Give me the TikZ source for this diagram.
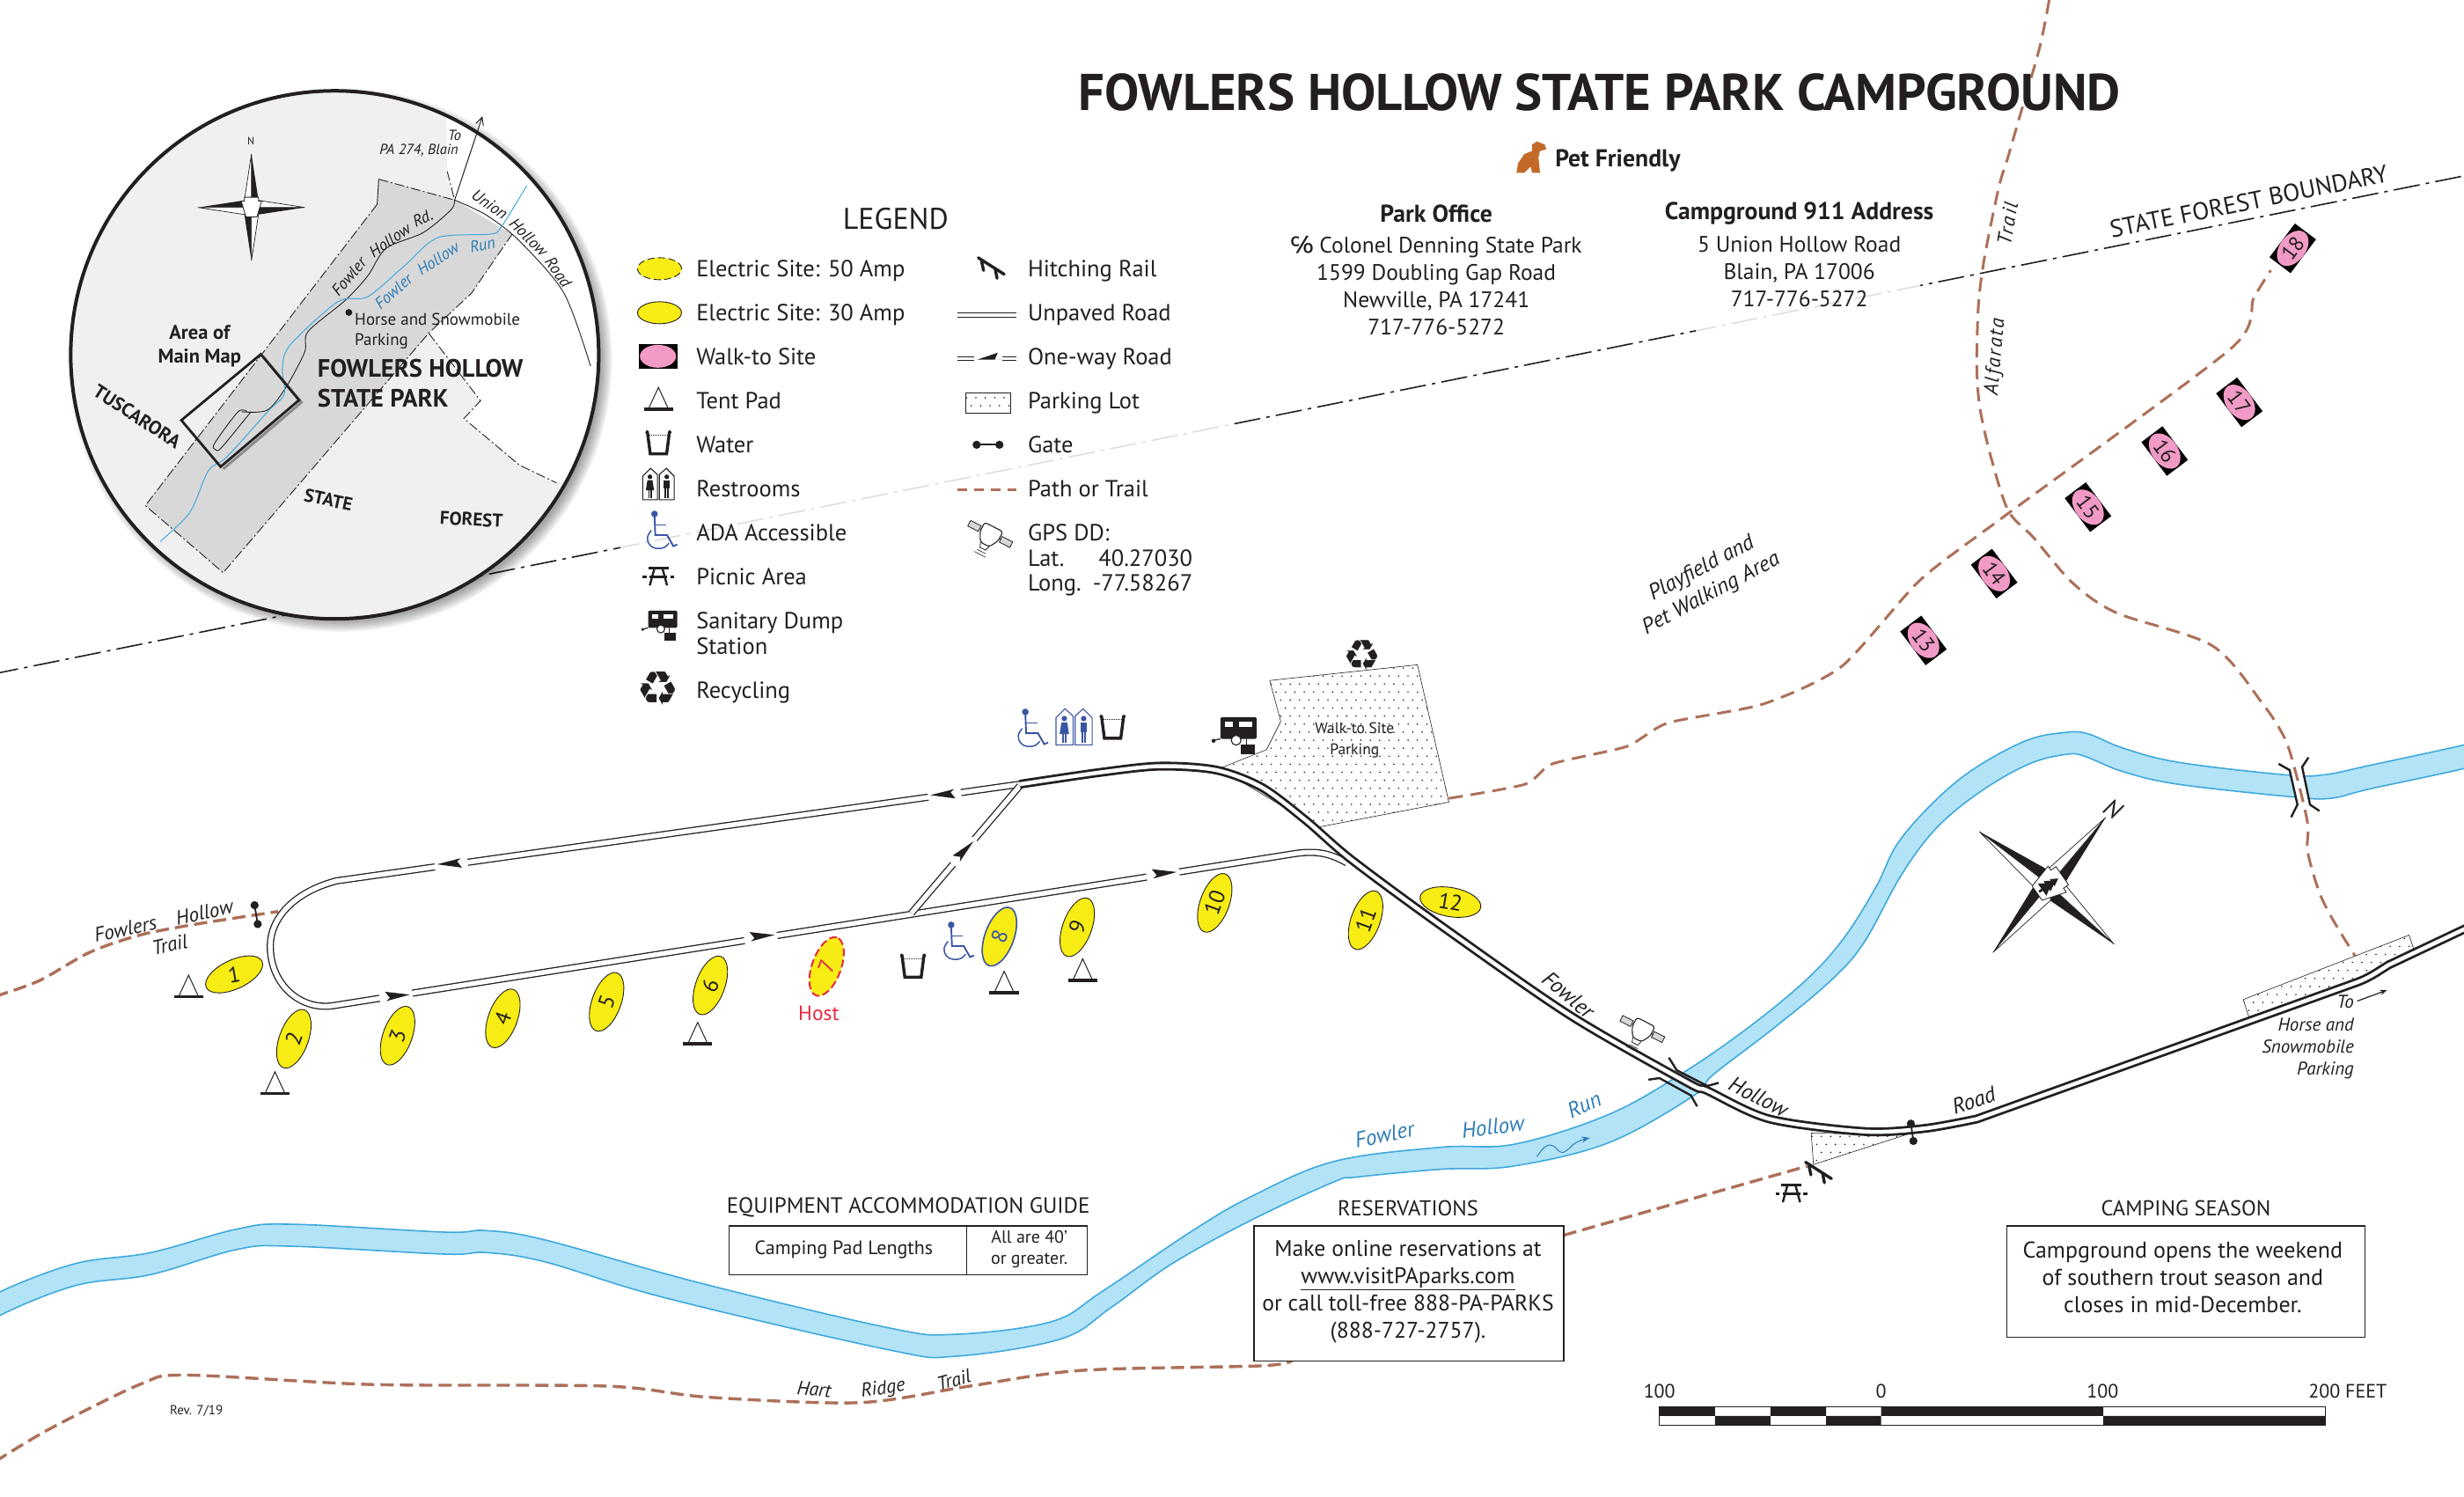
\documentclass[tikz,border=0pt]{standalone}
\usepackage{fontspec}
\setmainfont{PT Sans}
\newfontfamily\symf{DejaVu Sans}
\newfontface\spit[LetterSpace=9]{PT Sans Italic}
\usetikzlibrary{shapes.geometric,arrows.meta}
\definecolor{ink}{HTML}{231F20}
\definecolor{trailc}{HTML}{AD7059}
\definecolor{riverf}{HTML}{B3E3F7}
\definecolor{rivere}{HTML}{3FA9DC}
\definecolor{riverl}{HTML}{2F7DB8}
\definecolor{sitey}{HTML}{F7EC13}
\definecolor{pinks}{HTML}{F29AC6}
\definecolor{adab}{HTML}{3B55A5}
\definecolor{hostr}{HTML}{E8283F}
\definecolor{insetg}{HTML}{F1F0F1}
\definecolor{parkg}{HTML}{D9D8D8}
\definecolor{dogc}{HTML}{C46A28}
\newcounter{lblc}
\newcommand\fs[1]{\fontsize{#1pt}{\dimexpr#1pt*6/5\relax}\selectfont}
\newcommand\fsl[2]{\fontsize{#1pt}{#2pt}\selectfont}
% [options]{x}{y}{rotation}{size}{text}
\newcommand\lbl[6][]{\stepcounter{lblc}\node[inner sep=0,align=center,text=ink,rotate=#4,font=\fs{#5},#1] (L\arabic{lblc}) at (#2,#3) {#6};}
\newcommand\site[5][]{\node[sitestyle,rotate=#5,#1] (s#2) at (#3,#4) {#2};}
\newcommand\walksite[4]{\node[wrect,rotate=#4] (w#1) at (#2,#3) {};\node[well,rotate=#4] (we#1) at (w#1) {#1};}
\newcommand\icTent[2]{\begin{scope}[shift={(#1,#2)}]\draw[line width=1pt,ink] (-6,5.5)--(0,-7.5)--(6,5.5);\draw[line width=3.6pt,ink] (-9.3,6.3)--(9.3,6.3);\end{scope}}
\newcommand\icWater[2]{\begin{scope}[shift={(#1,#2)}]\draw[line width=3.4pt,ink] (-8,-7.5)--(-7,-7)--(-5.2,6.8)--(5.2,6.8)--(7,-7)--(8,-7.5);\draw[line width=1pt,ink,densely dotted] (-6,-5)--(6,-5);\end{scope}}
\newcommand\icRest[4]{\begin{scope}[shift={(#1,#2)},scale=#4,#3]
\draw[line width=1.1pt,fill=white] (-10,10)--(-10,-5)--(-5,-10)--(-.6,-6)--(-.6,10)--cycle;
\draw[line width=1.1pt,fill=white] (.6,10)--(.6,-6)--(5,-10)--(10,-5)--(10,10)--cycle;
\fill (-5.4,-4.6) circle[radius=1.5];\fill (-7,-2.5)--(-3.8,-2.5)--(-2.8,4)--(-8,4)--cycle;\fill (-6.5,4) rectangle (-5.8,9);\fill (-5,4) rectangle (-4.3,9);
\fill (5.3,-4.6) circle[radius=1.5];\fill (3.4,-2.5) rectangle (7.2,3);\fill (3.9,3) rectangle (5.1,9);\fill (5.5,3) rectangle (6.7,9);
\end{scope}}
\newcommand\icAda[3]{\begin{scope}[shift={(#1,#2)},scale=#3,adab,line width=1.5pt]
\fill (-4.5,-10) circle[radius=2.1];\draw[line width=1.9pt] (-4.5,-9)--(-4,3.5)--(3.5,3.5)--(7.5,10.5)--(10,9.5);\draw (-4.3,-3)--(3,-3);
\draw plot[smooth,tension=.7] coordinates {(-6.5,.5)(-9,5)(-7.5,9.8)(-3,12)(2,11.2)(4.6,8.6)};
\end{scope}}
\newcommand\icPicnic[2]{\begin{scope}[shift={(#1,#2)},ink]
\draw[line width=2.8pt] (-6.5,-5)--(6.5,-5);\draw[line width=2.6pt] (-10,.6)--(-7.5,.6) (-5.5,.6)--(5.5,.6) (7.5,.6)--(10,.6);\draw[line width=2.4pt] (-2.5,-5)--(-5.5,6) (2.5,-5)--(5.5,6);\end{scope}}
\newcommand\icDump[3]{\begin{scope}[shift={(#1,#2)},scale=#3,ink]
\fill[rounded corners=2pt] (-7.5,-8.5) rectangle (11,2.5);\fill[white] (-5,-6.3) rectangle (-1,-3.6);\fill[white] (2,-6.3) rectangle (8.5,-3.6);
\draw[line width=1.2pt] (-11,3.3)--(-7.5,2.5);\fill (-11,3.5) circle[radius=1];
\draw[line width=1.1pt,fill=white] (.5,3.2) circle[radius=2.5];\draw[line width=1.4pt] (5.8,2)--(5.8,6);\fill (3,5.5) rectangle (10,10.5);\end{scope}}
\newcommand\icRecycle[3]{\stepcounter{lblc}\node[inner sep=0,text=ink,font=\symf\fs{#3}] (L\arabic{lblc}) at (#1,#2) {♻};}
\newcommand\icHitch[2]{\begin{scope}[shift={(#1,#2)},ink,line cap=round]\draw[line width=3.4pt] (-8,-5.5)--(8.5,5);\draw[line width=3.4pt] (-5.8,-3)--(-4.6,2.6) (2.8,1.5)--(4,7.6);\end{scope}}
\newcommand\icGate[4]{\draw[line width=1.8pt,ink] (#1,#2)--(#3,#4);\fill[ink] (#1,#2) circle[radius=2.6];\fill[ink] (#3,#4) circle[radius=2.6];}
\newcommand\icGps[2]{\begin{scope}[shift={(#1,#2)},rotate=-27,ink]
\draw[line width=.8pt,fill=parkg] (-15,-4.5) rectangle (-7.5,-.5);\draw[line width=.8pt,fill=parkg] (7.5,-4.5) rectangle (15,-.5);
\draw[line width=.8pt] (-7.5,-2.5)--(7.5,-2.5);
\draw[line width=1.1pt,fill=white,rounded corners=3pt] (-6.5,-7.5)--(6.5,-7.5)--(6.5,-1)--(3.2,5)--(-3.2,5)--(-6.5,-1)--cycle;
\draw[line width=.8pt] (-3,5)--(-2,8)--(2,8)--(3,5);\draw[line width=.6pt] (-3,10)--(3,10) (-4,12)--(4,12);\end{scope}}
\newcommand\oneway[3]{\begin{scope}[shift={(#1,#2)},rotate=#3]\fill[white] (-10.5,-4) rectangle (10.5,4);\fill[ink] (9,.3)--(-6.5,-4)--(-4,.3)--(-6.5,2)--cycle;\end{scope}}
\newcommand\stipple[5]{\foreach \i in {0,...,#3}\foreach \j in {0,...,#4}{\fill[ink] ({#1+\i*#5+mod(\j,2)*#5/2},{#2+\j*#5*.85}) circle[radius=.5];}}
% {rotations} {length} {half width}
\newcommand\starrays[3]{\foreach \a in {#1}{\begin{scope}[rotate=\a]
\fill[ink] (0,-#2)--(0,0)--(#3,-#3)--cycle;\draw[line width=.7pt,ink,fill=white] (0,-#2)--(0,0)--(-#3,-#3)--cycle;\end{scope}}}
\newcommand\keystone{\draw[line width=.8pt,ink,fill=white] (-13,-8)--(-9,-8)--(-9,-13)--(9,-13)--(9,-8)--(13,-8)--(7,12)--(-7,12)--cycle;}
\tikzset{
 sitestyle/.style={ellipse,draw=ink,fill=sitey,line width=.9pt,minimum width=70pt,minimum height=33pt,inner sep=0,font=\fs{25},text=ink},
 wrect/.style={rectangle,fill=black,minimum width=48pt,minimum height=30pt,inner sep=0},
 well/.style={ellipse,fill=pinks,minimum width=45pt,minimum height=29.5pt,inner sep=0,font=\fs{24},text=ink},
 legendsite/.style={ellipse,draw=ink,fill=sitey,line width=.9pt,minimum width=50pt,minimum height=25pt,inner sep=0},
 roadthin/.style={double=white,double distance=5.5pt,line width=1.3pt,draw=ink},
 roadmain/.style={double=white,double distance=4.5pt,line width=2.8pt,draw=ink},
 trailthick/.style={draw=trailc,line width=3.4pt,dash pattern=on 15pt off 7pt},
 trailthin/.style={draw=trailc,line width=3pt,dash pattern=on 16pt off 9pt},
 boundary/.style={draw=ink,line width=.9pt,dash pattern=on 11pt off 3pt on 2pt off 3pt},
 infobox/.style={draw=ink,line width=1.4pt,fill=white},
 lotedge/.style={draw=ink,line width=.6pt,fill=white},
 legw/.style={anchor=west,text height=18.5pt,text depth=0pt},
 lege/.style={anchor=east,text height=18.5pt,text depth=0pt},
}
\begin{document}
\begin{tikzpicture}[x=1.785714pt,y=-1.785714pt]
\useasboundingbox (0,0) rectangle (1568,952);
\fill[white] (0,0) rectangle (1568,952);
% state forest boundary
\draw[ink,line width=1.6pt,dash pattern=on 30pt off 7pt on 4pt off 7pt] (-5,429) -- (1575,110.5);
\fill[white,opacity=.85] (395,120) rectangle (782,460);
\fill[white,opacity=.85] (1079,120) rectangle (1222,215);
% river
\draw[fill=riverf,draw=rivere,line width=1.6pt] plot[smooth,tension=.6] coordinates {(-10,832)(0,822)(48,804)(96,797)(151,782)(186,779)(283,784)(309,783)(347,789)(444,816)(566,845)(608,849)(669,841)(701,822)(759,783)(797,761)(849,739)(917,730)(964,728)(1024,709)(1072,682)(1115,652)(1151,622)(1174,596)(1194,564)(1208,536)(1233,508)(1258,488)(1290,471)(1315,466)(1329,467)(1351,476)(1386,485)(1454,493)(1479,493)(1508,487)(1568,474)(1580,470)} -- plot[smooth,tension=.6] coordinates {(1580,484)(1568,489)(1508,502)(1483,508)(1458,507)(1386,499)(1351,491)(1326,481)(1315,480)(1294,485)(1269,498)(1244,516)(1226,534)(1208,560)(1186,600)(1165,624)(1129,654)(1090,684)(1078,697)(1024,727)(963,742)(917,744)(863,749)(849,752)(797,776)(746,804)(707,832)(675,852)(608,863)(566,859)(424,826)(347,803)(309,797)(283,798)(186,793)(151,795)(96,811)(48,818)(0,837)(-10,848)} -- cycle;
\draw[-{Stealth[length=9pt,width=7pt]},draw=riverl,line width=1pt] plot[smooth,tension=.8] coordinates {(978,736)(983,730)(988,729)(993,733)(997,732)(1003,727)(1011.6,724)};
% bridge over the run, trail side
\fill[white] (1457,488) -- (1465,486) -- (1470,512) -- (1462,512) -- cycle;
% trails
\draw[trailthin] plot[smooth,tension=.5] coordinates {(1304,0)(1298,30)(1285,75)(1277.5,101)(1272,119)(1263,163)(1259,194)(1258,234)(1260,260)(1267,291)(1278,325)(1294,342)(1319,371)(1347,390)(1408,411)(1440,448)(1454,470)(1461,492)(1468.5,524)(1468.5,542)(1476,568)(1485,586)(1501,612)};
\draw[trailthin] plot[smooth,tension=.4] coordinates {(922,508)(970.5,499)(988,486)(1035,475)(1061.5,460)(1122,448)(1172,424)(1222,369)(1277.5,327)(1420,221.5)(1434,190)(1445,172)};
\draw[trailthick] plot[smooth,tension=.5] coordinates {(-3,634)(25,624)(57,606)(89,595)(125,588)(177,580)};
\draw[trailthick] plot[smooth,tension=.5] coordinates {(-3,930)(32,909)(90,880.5)(119,875)(238,881)(386,882)(450,889)(547,892.5)(617,882)(688,872)(804,869)(823,865)};
\draw[trailthick] (995,786)--(1150,742);
% parking lots
\begin{scope}\path[lotedge] (808,433)--(902,423)--(922,510.4)--(838.5,526.4)--(776,489)--(806,477)--(815,459)--cycle;
\clip (808,433)--(902,423)--(922,510.4)--(838.5,526.4)--(776,489)--(806,477)--(815,459)--cycle;\stipple{770}{420}{26}{22}{6}\end{scope}
\begin{scope}\path[lotedge] (1427.5,636)--(1533,595)--(1536,604)--(1508,622)--(1431,647)--cycle;
\clip (1427.5,636)--(1533,595)--(1536,604)--(1508,622)--(1431,647)--cycle;\stipple{1425}{592}{20}{11}{6}\end{scope}
\begin{scope}\path[lotedge] (1152.6,721)--(1154,741)--(1213,722)--cycle;
\clip (1152.6,721)--(1154,741)--(1213,722)--cycle;\stipple{1150}{718}{11}{5}{6}\end{scope}
% roads
\draw[roadthin] (649,499) -- (214,560.5) .. controls (186,568) and (172,585) .. (172,602) .. controls (172,627) and (192,644) .. (214,639.6) -- (825,543) .. controls (840,541) and (848,544) .. (857,549);
\draw[roadthin] (580,581)--(649,500);
\draw[roadmain] plot[smooth,tension=.5] coordinates {(649,499)(700,491.5)(738,487.5)(774,490)(803,501)(831,522)(860,547)(917,589)(999,646)(1074,689)(1086.5,694)(1126,712)(1186.5,720)(1225,718)(1258,712)} -- (1500,625) .. controls (1508,622) and (1512,619) .. (1520,614) -- (1575,588);
\oneway{287}{549}{188}\oneway{601}{505}{188}\oneway{252}{634}{9}\oneway{484}{596}{9}\oneway{740}{556}{9}\oneway{613.5}{542}{50}
% bridge brackets
\draw[ink,line width=2.4pt] (1062,673)--(1067,681)--(1086.5,691)--(1093.7,689) (1049,687)--(1056,686)--(1076,697)--(1080,704);
\draw[ink,line width=2.4pt] (1450,486)--(1457,490)--(1462,512)--(1458,520) (1469,482)--(1465,488)--(1470,512)--(1476,516);
% gates
\icGate{162}{576}{164}{588}
\icGate{1216}{715}{1217.6}{726}
% sites
\node[sitestyle,rotate=25] (s1) at (149,620) {\rotatebox{-15}{1}};
\site{2}{187}{661}{70}\site{3}{253}{659}{70}\site{4}{320}{648}{70}\site{5}{386}{637.5}{70}\site{6}{452}{627}{70}
\site[draw=hostr,dash pattern=on 9pt off 4pt,line width=2pt,text=hostr]{7}{526}{615}{70}
\site[draw=adab,line width=1.6pt,text=adab]{8}{636}{596}{70}
\site{9}{685.5}{590}{70}\site{10}{773}{574.5}{70}\site{11}{869}{585.5}{70}\site{12}{923}{574}{-10}
\walksite{13}{1224}{407.5}{-53}\walksite{14}{1269}{365}{-53}\walksite{15}{1328.7}{322.7}{-53}\walksite{16}{1377.5}{287}{-53}\walksite{17}{1425}{256}{-53}\walksite{18}{1459}{158}{53}
\icTent{120}{628}\icTent{175}{689.5}\icTent{444}{658}\icTent{639}{625.5}\icTent{689}{617.6}
\icWater{708}{463}\icWater{581}{615}
\icAda{657}{463}{1}\icAda{609.8}{598.5}{1}
\icRest{683.5}{462.5}{adab}{1.15}
\icDump{786}{467}{1.25}
\icRecycle{867}{417}{48}
\icPicnic{1140}{759}
\icHitch{1157}{745}
\icGps{1044}{657}
% big compass
\begin{scope}[shift={(1304,563)}]\starrays{-40,-132.5,-219.7,-307.3}{56}{7}
\begin{scope}[rotate=-55,scale=.78]\keystone
\fill[ink] (0,-9)--(3.5,-3)--(2,-3)--(5,2)--(3,2)--(6,7)--(1,7)--(1,10)--(-1,10)--(-1,7)--(-6,7)--(-3,2)--(-5,2)--(-2,-3)--(-3.5,-3)--cycle;\end{scope}\end{scope}
\lbl[font=\itshape\fs{28}]{1345}{514.6}{-33}{28}{N}
% legend
\lbl{570}{139}{0}{34}{LEGEND}
\node[legendsite,dash pattern=on 8pt off 4pt] (le50) at (419.7,171) {};
\node[legendsite] (le30) at (419.7,199) {};
\node[wrect,minimum width=44pt,minimum height=28pt] (lewr) at (418.7,226.7) {};
\node[well,minimum width=41pt,minimum height=26pt] (lewe) at (lewr) {};
\icTent{419}{254}\icWater{419}{282}\icRest{419}{308}{ink}{1}\icAda{421}{337}{1}\icPicnic{419}{366.5}\icDump{420}{397}{1}\icRecycle{418.5}{438}{54}
\lbl[legw]{443}{171}{0}{26.5}{Electric Site: 50 Amp}
\lbl[legw]{443}{199}{0}{26.5}{Electric Site: 30 Amp}
\lbl[legw]{443}{227}{0}{26.5}{Walk-to Site}
\lbl[legw]{443}{255}{0}{26.5}{Tent Pad}
\lbl[legw]{443}{283}{0}{26.5}{Water}
\lbl[legw]{443}{311}{0}{26.5}{Restrooms}
\lbl[legw]{443}{339}{0}{26.5}{ADA Accessible}
\lbl[legw]{443}{367}{0}{26.5}{Picnic Area}
\lbl[legw]{443}{395}{0}{26.5}{Sanitary Dump}
\lbl[legw]{443}{411}{0}{26.5}{Station}
\lbl[legw]{443}{439}{0}{26.5}{Recycling}
\icHitch{630.5}{169.5}
\draw[roadthin,line width=1pt,double distance=4pt] (609,200.3)--(647,200.3);
\draw[ink,line width=1pt,double,double distance=3pt] (609,228)--(620,228) (638,228)--(647,228);
\begin{scope}[shift={(629,228)}]\fill[ink] (9,.8)--(-7,.8)--(6,-3.6)--(4,.8)--cycle;\end{scope}
\begin{scope}\path[lotedge] (614.5,250) rectangle (643,262.6);\clip (614.5,250) rectangle (643,262.6);\stipple{612}{248}{5}{3}{6}\end{scope}
\icGate{621.5}{283}{636}{283}
\draw[trailthick,dash pattern=on 11pt off 8pt] (609.5,311.8)--(647,311.8);
\icGps{629}{342}
\lbl[legw]{654}{171}{0}{26.5}{Hitching Rail}
\lbl[legw]{654}{199}{0}{26.5}{Unpaved Road}
\lbl[legw]{654}{227}{0}{26.5}{One-way Road}
\lbl[legw]{654}{255}{0}{26.5}{Parking Lot}
\lbl[legw]{654}{283}{0}{26.5}{Gate}
\lbl[legw]{654}{311}{0}{26.5}{Path or Trail}
\lbl[legw]{654}{339}{0}{26.5}{GPS DD:}
\lbl[legw]{654}{355}{0}{26.5}{Lat.}
\lbl[lege]{759}{355}{0}{26.5}{40.27030}
\lbl[legw]{654}{371}{0}{26.5}{Long.}
\lbl[lege]{759}{371}{0}{26.5}{-77.58267}
% title and addresses
\lbl[font=\bfseries\fs{58.7}]{1018}{59}{0}{54}{FOWLERS HOLLOW STATE PARK CAMPGROUND}
\fill[dogc] (978,90)--(983,92)--(984,95)--(980,96)--(979,100)--(980,110)--(975,110)--(974,106)--(970,110)--(965,110)--(966,104)--(970,98)--(975,96)--(975,92)--cycle;
\lbl[font=\bfseries\fs{27.7}]{1029.5}{102}{0}{26}{Pet Friendly}
\lbl[font=\bfseries\fs{27.7}]{914}{136}{0}{26}{Park Office}
\lbl[font=\fsl{25.5}{31}]{914}{182}{0}{26}{{\symf ℅} Colonel Denning State Park\\1599 Doubling Gap Road\\Newville, PA 17241\\717-776-5272}
\lbl[font=\bfseries\fs{27.7}]{1145}{136}{0}{26}{Campground 911 Address}
\lbl[font=\fsl{25.5}{31}]{1145}{173}{0}{26}{5 Union Hollow Road\\Blain, PA 17006\\717-776-5272}
% map labels
\lbl{1431}{128}{11.5}{28}{STATE FOREST BOUNDARY}
\lbl[font=\spit\fs{23}]{1277.5}{142}{80}{23}{Trail}
\lbl[font=\spit\fs{23}]{1270}{227}{85}{23}{Alfarata}
\lbl[font=\itshape\fs{25}]{1083}{362}{28}{25}{Playfield and}
\lbl[font=\itshape\fs{25}]{1089}{378}{28}{25}{Pet Walking Area}
\lbl{862}{463.5}{0}{17.5}{Walk-to Site}
\lbl{862}{477.5}{0}{17.5}{Parking}
\lbl[text=hostr]{521}{645}{0}{23.5}{Host}
\lbl[font=\itshape\fs{23}]{104}{586}{12}{23}{Fowlers\quad Hollow}
\lbl[font=\itshape\fs{23}]{108}{601}{12}{23}{Trail}
\lbl[font=\itshape\fs{25},text=riverl]{881}{722}{12}{25}{Fowler}
\lbl[font=\itshape\fs{25},text=riverl]{950}{717}{7}{25}{Hollow}
\lbl[font=\itshape\fs{25},text=riverl]{1008}{703}{25}{25}{Run}
\lbl[font=\itshape\fs{25}]{998}{633}{-40}{25}{Fowler}
\lbl[font=\itshape\fs{25}]{1119}{698}{-27}{25}{Hollow}
\lbl[font=\itshape\fs{25}]{1256}{700}{18}{25}{Road}
\lbl[font=\itshape\fs{21},align=right,anchor=east]{1498}{660}{0}{21}{To\\Horse and\\Snowmobile\\Parking}
\coordinate (toA) at (1500,637);\coordinate (toB) at (1519,630);
\draw[-{Stealth[length=8pt,width=6pt]},ink,line width=1.2pt] (toA)--(toB);
\lbl[font=\itshape\fs{22}]{518}{884}{-5}{22}{Hart}
\lbl[font=\itshape\fs{22}]{562}{884}{8}{22}{Ridge}
\lbl[font=\itshape\fs{22}]{607}{878}{15}{22}{Trail}
\lbl{125}{898}{0}{15}{Rev. 7/19}
% boxes
\lbl{578}{768}{0}{25}{EQUIPMENT ACCOMMODATION GUIDE}
\draw[infobox] (464,780) rectangle (692,811);\draw[ink,line width=.8pt] (615,780)--(615,811);
\lbl{537}{795}{0}{22}{Camping Pad Lengths}
\lbl{655}{795}{0}{20}{All are 40’\\or greater.}
\lbl{896}{769}{0}{24.5}{RESERVATIONS}
\draw[infobox] (798,780) rectangle (995,866);
\lbl[font=\fsl{25.7}{31}]{896}{822}{0}{26}{Make online reservations at\\\underline{www.visitPAparks.com}\\or call toll-free 888-PA-PARKS\\(888-727-2757).}
\lbl{1391}{769}{0}{24.5}{CAMPING SEASON}
\draw[infobox] (1277,780) rectangle (1505,851);
\lbl[font=\fsl{26}{31}]{1389}{813}{0}{26}{Campground opens the weekend\\of southern trout season and\\closes in mid-December.}
% scale bar
\lbl{1056}{885}{0}{22}{100}\lbl{1197}{885}{0}{22}{0}\lbl{1338}{885}{0}{22}{100}\lbl{1494}{885}{0}{22}{200 FEET}
\draw[ink,line width=1.2pt,fill=white] (1056,895) rectangle (1480,907);
\fill[ink] (1056,895) rectangle (1091.4,901) (1126.7,895) rectangle (1162,901) (1197,895) rectangle (1338.5,901);
\fill[ink] (1091.4,901) rectangle (1126.7,907) (1162,901) rectangle (1197,907) (1338.5,901) rectangle (1480,907);
% inset map
\foreach \i in {1,...,8}{\fill[black,opacity=.05] (216.5,229) circle[radius=165+\i];}
\begin{scope}
\clip (213,225.8) circle[radius=168];
\fill[insetg] (40,50) rectangle (390,400);
\fill[white] (284,65)--(284.6,109)--(289.3,127.3)--(325.9,149)--(300,186.6)--(272.8,212)--(305.8,255)--(295.2,266.3)--(330.6,296)--(354.2,307.3)--(401,307)--(401,62.6)--cycle;
\fill[parkg] (241,114)--(289.3,127.3)--(325.9,149)--(300,186.6)--(272.8,212)--(142,364.4)--(92.5,321.7)--(240,130)--cycle;
\draw[ink,line width=.9pt] (241,114)--(240,130);
\draw[boundary] (284.6,109)--(289.3,127.3) (241,114)--(289.3,127.3);
\draw[boundary] (240,130)--(92.5,321.7)--(142,364.4)--(272.8,212)--(300,186.6)--(325.9,149);
\draw[boundary] (272.8,212)--(305.8,255)--(295.2,266.3)--(330.6,296)--(354.2,307.3);
\draw[ink,line width=.9pt] plot[smooth,tension=.5] coordinates {(289.3,127.3)(287,133.5)(269.3,148)(245.7,158)(234,175.6)(219.8,191)(196,211)(193.9,224)(182,246.4)(170,261)(153.8,262)};
\draw[ink,line width=.9pt] plot[smooth,tension=.5] coordinates {(157.3,262)(151.5,262)(136.6,282)(137,286)(140.8,285)(157.3,265)(160,262)};
\draw[ink,line width=.9pt] plot[smooth,tension=.5] coordinates {(289.3,127.3)(309.4,136.8)(330.6,153.4)(358.9,186.6)(375.8,233)};
\draw[rivere,line width=1pt] plot[smooth,tension=.5] coordinates {(335.3,118)(318.8,144.6)(311.7,149)(278.7,151.2)(257.5,169)(234,188.8)(215,192)(184.4,219.8)(179.7,235.3)(180.9,250.8)(170.3,262)(144.4,290.7)(132.6,299.5)(120.8,326)(102,344.5)};
\end{scope}
\draw[ink,line width=4pt] (213,225.8) circle[radius=168];
\draw[-{Straight Barb[length=9pt,width=9pt]},ink,line width=1pt] (289.3,127.3)--(307,74);
\draw[black,opacity=.35,line width=3pt] (167.5,227)--(191.8,256)--(142,298.5);
\draw[ink,line width=2.8pt] (166,225.4)--(190.3,254.6)--(140.4,297)--(115.4,267.4)--cycle;
\begin{scope}[shift={(160,132)}]\starrays{0,-90,-180,-270}{34}{4.5}\begin{scope}[scale=.5]\keystone\end{scope}\end{scope}
\lbl{159.7}{90}{0}{12}{N}
\fill[ink] (222,198.8) circle[radius=2.2];
\lbl[font=\bfseries\fs{22.5}]{127}{220}{0}{20}{Area of\\Main Map}
\lbl[font=\bfseries\fs{28.5},align=left,anchor=west]{202}{243.7}{0}{29}{FOWLERS HOLLOW\\STATE PARK}
\lbl[font=\bfseries\fs{21.5}]{87.3}{265}{-33}{21}{TUSCARORA}
\lbl[font=\bfseries\fs{21}]{209}{318}{-12}{21}{STATE}
\lbl[font=\bfseries\fs{21}]{300}{330.5}{-3}{21}{FOREST}
\lbl[align=left,anchor=west]{225.7}{210.5}{0}{19}{Horse and Snowmobile\\Parking}
\lbl[font=\itshape\fs{16.5}]{289.3}{86}{0}{15}{To}
\lbl[font=\itshape\fs{16.5},anchor=east]{291.7}{95.4}{0}{15}{PA 274, Blain}
\lbl[font=\itshape\fs{18.5}]{222}{176}{50}{17}{Fowler}
\lbl[font=\itshape\fs{18.5}]{248}{153}{35}{17}{Hollow}
\lbl[font=\itshape\fs{18.5}]{269}{139}{25}{17}{Rd.}
\lbl[font=\itshape\fs{18.5},text=riverl]{250.4}{185.5}{42}{17}{Fowler}
\lbl[font=\itshape\fs{18.5},text=riverl]{278.7}{164.5}{33}{17}{Hollow}
\lbl[font=\itshape\fs{18.5},text=riverl]{307}{155.6}{12}{17}{Run}
\lbl[font=\itshape\fs{18.5}]{311.7}{130}{-35}{17}{Union}
\lbl[font=\itshape\fs{18.5}]{336.5}{151}{-45}{17}{Hollow}
\lbl[font=\itshape\fs{18.5}]{355.3}{173.3}{-55}{17}{Road}
\end{tikzpicture}
\end{document}
